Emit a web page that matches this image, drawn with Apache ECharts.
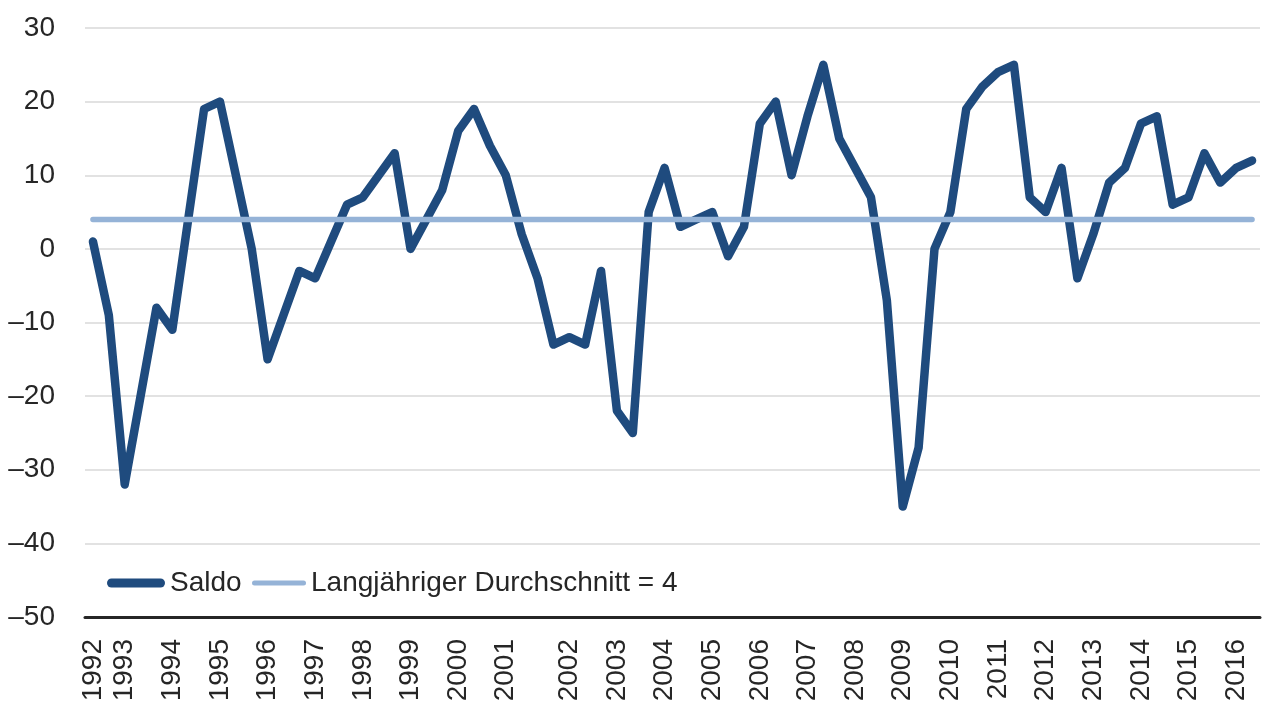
<!DOCTYPE html>
<html>
<head>
<meta charset="utf-8">
<script src="https://cdn.jsdelivr.net/npm/echarts@6/dist/echarts.min.js"></script>
<style>
  html, body { margin: 0; padding: 0; background: #fff; }
  #chart { width: 1268px; height: 702px; }
</style>
</head>
<body>
<div id="chart"></div>
<script>
// survey waves, roughly three per year
const yearLabels = ['1992', '1993', '1994', '1995', '1996', '1997', '1998', '1999', '2000', '2001',
  '2002', '2003', '2004', '2005', '2006', '2007', '2008', '2009', '2010', '2011',
  '2012', '2013', '2014', '2015', '2016']
const yearLabelIndex = [0, 2, 5, 8, 11, 14, 17, 20, 23, 26,
  30, 33, 36, 39, 42, 45, 48, 51, 54, 57,
  60, 63, 66, 69, 72]

const saldo = [1, -9, -32, -20, -8, -11, 4, 19, 20, 10,
  0, -15, -9, -3, -4, 1, 6, 7, 10, 13,
  0, 4, 8, 16, 19, 14, 10, 2, -4, -13,
  -12, -13, -3, -22, -25, 5, 11, 3, 4, 5,
  -1, 3, 17, 20, 10, 18, 25, 15, 11, 7,
  -7, -35, -27, 0, 5, 19, 22, 24, 25, 7,
  5, 11, -4, 2, 9, 11, 17, 18, 6, 7,
  13, 9, 11, 12]

const longTermAverage = 4
const yTicks = { min: -50, max: 30, interval: 10 }

const categories = saldo.map((_, i) => {
  const pos = yearLabelIndex.indexOf(i)
  return pos >= 0 ? yearLabels[pos] : ''
})
const averageLine = saldo.map(() => longTermAverage)

const saldoName = 'Saldo'
const averageName = 'Langjähriger Durchschnitt = ' + longTermAverage
const darkBlue = '#1f4b7e'
const lightBlue = '#95b3d7'
const textColor = '#262626'
const fontFamily = '"Liberation Sans", Arial, sans-serif'

// pill shaped legend marks, drawn at their own aspect
const pill = (w, h) => {
  const r = h / 2
  return `path://M${r},0 H${w - r} A${r},${r} 0 0 1 ${w - r},${h} H${r} A${r},${r} 0 0 1 ${r},0 Z`
}

const legendText = { color: textColor, fontSize: 28, fontFamily: fontFamily }

const chart = echarts.init(document.getElementById('chart'))
chart.setOption({
  backgroundColor: '#fff',
  animation: false,
  grid: {
    left: 85,
    right: 8,
    top: 28,
    bottom: 85,
    containLabel: false,
    outerBoundsMode: 'none',
  },
  legend: [
    {
      left: 107,
      top: 569,
      padding: 0,
      icon: pill(58, 9),
      itemWidth: 58,
      itemHeight: 9,
      textStyle: legendText,
      data: [saldoName],
    },
    {
      left: 252,
      top: 569,
      padding: 0,
      icon: pill(54, 5),
      itemWidth: 54,
      itemHeight: 5,
      textStyle: legendText,
      data: [averageName],
    },
  ],
  xAxis: {
    type: 'category',
    data: categories,
    boundaryGap: true,
    axisLine: { onZero: false, lineStyle: { color: '#262626', width: 3 } },
    axisTick: { show: false },
    splitLine: { show: false },
    axisLabel: {
      rotate: 90,
      margin: 22,
      interval: (index, value) => value !== '',
      color: textColor,
      fontSize: 28,
      fontFamily: fontFamily,
    },
  },
  yAxis: {
    type: 'value',
    min: yTicks.min,
    max: yTicks.max,
    interval: yTicks.interval,
    axisLine: { show: false },
    axisTick: { show: false },
    splitLine: { lineStyle: { color: '#d9d9d9', width: 1.5 } },
    axisLabel: {
      margin: 30,
      color: textColor,
      fontSize: 28,
      fontFamily: fontFamily,
      formatter: v => String(v).replace('-', '–'),
    },
  },
  series: [
    {
      name: saldoName,
      type: 'line',
      data: saldo,
      symbol: 'none',
      lineStyle: { color: darkBlue, width: 8.5, cap: 'round', join: 'round' },
      itemStyle: { color: darkBlue },
    },
    {
      name: averageName,
      type: 'line',
      data: averageLine,
      symbol: 'none',
      lineStyle: { color: lightBlue, width: 5.5, cap: 'round' },
      itemStyle: { color: lightBlue },
    },
  ],
})
</script>
</body>
</html>
